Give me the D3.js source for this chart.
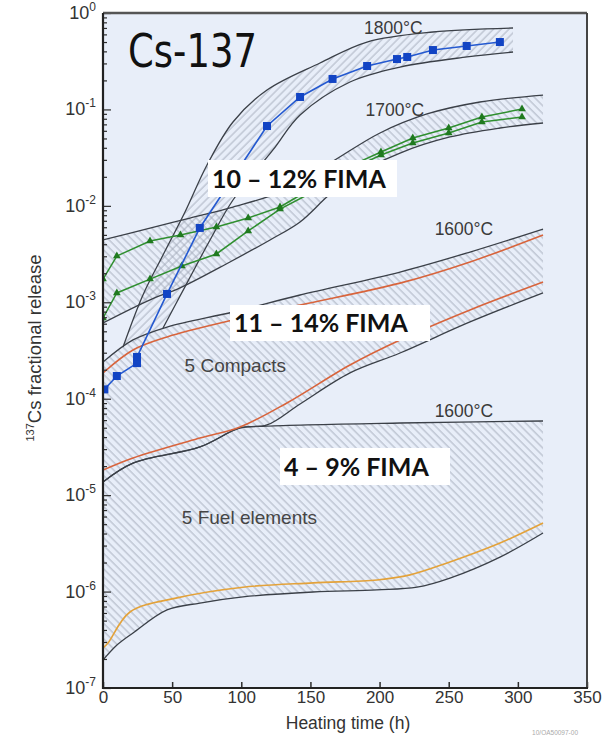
<!DOCTYPE html>
<html><head><meta charset="utf-8">
<script src="https://cdn.jsdelivr.net/npm/d3@7"></script>
<style>body{margin:0;background:#fff;} svg{display:block;font-family:"Liberation Sans",Arial,sans-serif;}</style>
</head><body><svg id="c" width="611" height="738"></svg>
<script>
// ---- data: [heating time (h), fractional release] ----
const xTickValues=[0,50,100,150,200,250,300,350];
const yDecadeExps=[-7,-6,-5,-4,-3,-2,-1,0];

const band1800Upper=[[14.5,3.44e-4],[28.9,1.19e-3],[43.4,3.09e-3],[59.3,8.63e-3],[75.2,0.0265],[94,0.0741],[118.6,0.159],[156.9,0.303],[190.9,0.5],[238.6,0.635],[296.5,0.699]];
const band1800Lower=[[43.4,5.41e-4],[60.7,1.58e-3],[77.4,4.43e-3],[94,0.0115],[122.9,0.038],[142.5,0.0875],[178.6,0.1925],[214.8,0.275],[263.2,0.35],[296.5,0.394]];
const blue1800=[[1,1.25e-4],[10,1.72e-4],[24.6,2.34e-4],[24.6,2.71e-4],[46.3,1.22e-3],[70,5.9e-3],[118.6,0.0673],[142.5,0.1346],[166,0.207],[191,0.282],[212.6,0.333],[220,0.35],[238.6,0.413],[263,0.455],[287,0.5]];

const band1700Upper=[[0,4.43e-3],[34,5.89e-3],[62.9,7.48e-3],[94,9.73e-3],[128,0.0139],[164.1,0.0278],[200.3,0.057],[234.3,0.0897],[272.6,0.1194],[318.2,0.141]];
const band1700Lower=[[0,6.1e-4],[34,1.06e-3],[55.7,1.41e-3],[91.8,2.62e-3],[120.8,4.43e-3],[142.5,6.81e-3],[162,0.0124],[178.6,0.0195],[214.8,0.0353],[250.9,0.0518],[287.1,0.0642],[318.2,0.0723]];
const green1700A=[[0,1.74e-3],[10,3.02e-3],[34,4.32e-3],[56,4.99e-3],[82,6.04e-3],[105,7.48e-3],[128,9.73e-3],[152,0.0155],[175,0.0245],[201,0.0362],[224,0.0506],[250,0.0642],[274,0.0835],[303,0.101]];
const green1700B=[[0,6.87e-4],[10,1.25e-3],[34,1.74e-3],[57,2.38e-3],[82,3.17e-3],[105,5.49e-3],[128,9.27e-3],[152,0.014],[175,0.0225],[201,0.0337],[224,0.0449],[250,0.057],[274,0.0741],[303,0.0835]];

const compactsUpper=[[0,2.4e-4],[21.7,4.07e-4],[46.3,5.54e-4],[94,7.93e-4],[142.5,1.19e-3],[214.8,2.06e-3],[265.4,3.32e-3],[318.2,5.75e-3]];
const compactsRedUpper=[[0,1.85e-4],[21.7,3.2e-4],[46.3,4.37e-4],[94,6.55e-4],[142.5,9.37e-4],[214.8,1.58e-3],[265.4,2.62e-3],[318.2,4.99e-3]];
const compactsRedLower=[[0,1.82e-5],[21.7,2.43e-5],[70.1,3.91e-5],[99.1,5.09e-5],[133,9.04e-5],[178.6,2.24e-4],[214.8,4.07e-4],[265.4,8.32e-4],[318.2,1.62e-3]];
const compactsLower=[[0,1.37e-5],[21.7,2.15e-5],[70.1,3.16e-5],[99.1,4.97e-5],[118.6,5.34e-5],[142.5,8.82e-5],[178.6,1.85e-4],[214.8,2.98e-4],[265.4,6.25e-4],[318.2,1.25e-3]];

const fuelUpper=[[0,1.37e-5],[21.7,2.15e-5],[70.1,3.16e-5],[99.1,4.97e-5],[118.6,5.2e-5],[214.8,5.6e-5],[318.2,5.87e-5]];
const fuelOrange=[[0,2.6e-7],[3.6,2.93e-7],[19.5,6.14e-7],[53.5,8.6e-7],[101.2,1.11e-6],[151.9,1.23e-6],[198.1,1.32e-6],[222,1.49e-6],[248.8,1.98e-6],[287.1,3.19e-6],[318.2,5.14e-6]];
const fuelLower=[[0,1.95e-7],[10.1,2.79e-7],[21.7,3.72e-7],[46.3,6.45e-7],[70.1,7.6e-7],[101.2,8.8e-7],[151.9,9.9e-7],[198.1,1.04e-6],[227.1,1.11e-6],[250.9,1.38e-6],[287.1,2.28e-6],[318.2,4.05e-6]];

const tempLabels=[{t:"1800°C",h:210,v:0.6},{t:"1700°C",h:211,v:0.0855},{t:"1600°C",h:261,v:5.0e-3},{t:"1600°C",h:261,v:6.4e-5}];
const bandLabels=[{t:"5 Compacts",h:59,v:1.9e-4},{t:"5 Fuel elements",h:57,v:5.0e-6}];
const fimaLabels=["10 – 12% FIMA","11 – 14% FIMA","4 – 9% FIMA"];

// ---- chart ----
const svg=d3.select("#c");
const L=103,R=587,T=13,B=688;
const x=d3.scaleLinear().domain([0,350]).range([L,R]);
const y=d3.scaleLog().domain([1e-7,1]).range([B,T]);

const defs=svg.append("defs");
function hatch(id,angle){
  const p=defs.append("pattern").attr("id",id).attr("patternUnits","userSpaceOnUse")
    .attr("width",5.5).attr("height",5.5).attr("patternTransform",`rotate(${angle})`);
  p.append("line").attr("x1",1).attr("y1",0).attr("x2",1).attr("y2",5.5)
    .attr("stroke","#a0a8b6").attr("stroke-width",0.85);
}
hatch("hb",-45); hatch("hf",45);
defs.append("clipPath").attr("id","clip").append("rect").attr("x",L).attr("y",T).attr("width",R-L).attr("height",B-T);

svg.append("rect").attr("x",L).attr("y",T).attr("width",R-L).attr("height",B-T).attr("fill","#e8eef9");

const g=svg.append("g").attr("clip-path","url(#clip)");
const curve=d3.curveCatmullRom.alpha(0.5);
const line=d3.line().x(d=>x(d[0])).y(d=>y(d[1])).curve(curve);
const lineLin=d3.line().x(d=>x(d[0])).y(d=>y(d[1]));
function bandPath(up,lo){
  return line(up)+"L"+line(lo.slice().reverse()).slice(1)+"Z";
}
g.append("path").attr("d",bandPath(fuelUpper,fuelLower)).attr("fill","url(#hb)");
g.append("path").attr("d",bandPath(compactsUpper,compactsLower)).attr("fill","url(#hb)");
g.append("path").attr("d",bandPath(band1700Upper,band1700Lower)).attr("fill","url(#hb)");
g.append("path").attr("d",bandPath(band1800Upper,band1800Lower)).attr("fill","url(#hf)");

const dark="#3b4048";
[band1800Upper,band1800Lower,band1700Upper,band1700Lower,compactsUpper,compactsLower,fuelUpper,fuelLower].forEach(s=>{
  g.append("path").attr("d",line(s)).attr("fill","none").attr("stroke",dark).attr("stroke-width",1.3);
});
[compactsRedUpper,compactsRedLower].forEach(s=>{
  g.append("path").attr("d",line(s)).attr("fill","none").attr("stroke","#d8643c").attr("stroke-width",1.6);
});
g.append("path").attr("d",line(fuelOrange)).attr("fill","none").attr("stroke","#e3a23a").attr("stroke-width",1.6);

// green data
[green1700A,green1700B].forEach(s=>{
  g.append("path").attr("d",lineLin(s)).attr("fill","none").attr("stroke","#2f8f2f").attr("stroke-width",1.5);
  g.selectAll(null).data(s).enter().append("path")
    .attr("d",d3.symbol(d3.symbolTriangle,26)).attr("transform",d=>`translate(${x(d[0])},${y(d[1])})`).attr("fill","#1f7a1f");
});
// blue data
g.append("path").attr("d",lineLin(blue1800)).attr("fill","none").attr("stroke","#2459d0").attr("stroke-width",1.6);
g.selectAll(null).data(blue1800).enter().append("rect")
  .attr("x",d=>x(d[0])-4).attr("y",d=>y(d[1])-4).attr("width",8).attr("height",8).attr("fill","#1244c4");

// text labels
svg.selectAll(null).data(tempLabels).enter().append("text")
  .attr("x",d=>x(d.h)).attr("y",d=>y(d.v)).attr("text-anchor","middle").attr("font-size",17.5).attr("fill","#3a3a3a").text(d=>d.t);
svg.selectAll(null).data(bandLabels).enter().append("text")
  .attr("x",d=>x(d.h)).attr("y",d=>y(d.v)).attr("font-size",19).attr("fill","#454545").text(d=>d.t);

// axes
const yMajor=yDecadeExps.map(e=>Math.pow(10,e));
const yMinor=[];
yDecadeExps.slice(0,-1).forEach(e=>{for(let k=2;k<=9;k++)yMinor.push(k*Math.pow(10,e));});
const yAx=svg.append("g").attr("transform",`translate(${L},0)`)
  .call(d3.axisLeft(y).tickValues(yMajor).tickSizeInner(-8).tickSizeOuter(0).tickFormat(""));
const yAxMin=svg.append("g").attr("transform",`translate(${L},0)`)
  .call(d3.axisLeft(y).tickValues(yMinor).tickSizeInner(-4).tickSizeOuter(0).tickFormat(""));
[yAx,yAxMin].forEach(a=>{a.select(".domain").remove();a.selectAll("line").attr("stroke","#2d2d2d").attr("stroke-width",1.2);});
const xAx=svg.append("g").attr("transform",`translate(0,${B})`)
  .call(d3.axisBottom(x).tickValues(xTickValues).tickSizeInner(-6).tickSizeOuter(0).tickPadding(3).tickFormat(d3.format("d")));
xAx.select(".domain").remove();
xAx.selectAll("line").attr("stroke","#2d2d2d").attr("stroke-width",1.5);
xAx.selectAll("text").attr("font-size",17).attr("fill","#333").attr("font-family","Liberation Sans, Arial, sans-serif");

// y tick labels with superscripts
yDecadeExps.forEach(e=>{
  const t=svg.append("text").attr("x",96).attr("y",y(Math.pow(10,e))+6).attr("text-anchor","end").attr("font-size",18).attr("fill","#333");
  t.append("tspan").text("10");
  t.append("tspan").attr("font-size",12).attr("dy",-8).text(e===0?"0":"-"+(-e));
});

// frame
svg.append("line").attr("x1",L).attr("x2",R).attr("y1",T).attr("y2",T).attr("stroke","#555").attr("stroke-width",2.5);
svg.append("line").attr("x1",R).attr("x2",R).attr("y1",T).attr("y2",B).attr("stroke","#444").attr("stroke-width",2);
svg.append("line").attr("x1",L).attr("x2",L).attr("y1",T).attr("y2",B+1).attr("stroke","#222").attr("stroke-width",2.2);
svg.append("line").attr("x1",L-1).attr("x2",R+1).attr("y1",B).attr("y2",B).attr("stroke","#222").attr("stroke-width",2.2);

// axis titles
svg.append("text").attr("x",348).attr("y",729).attr("text-anchor","middle").attr("font-size",17.5).attr("fill","#333").text("Heating time (h)");
const yt=svg.append("text").attr("transform","translate(41,348) rotate(-90)").attr("text-anchor","middle").attr("font-size",18.5).attr("fill","#333");
yt.append("tspan").attr("font-size",11).attr("dy",-7).text("137");
yt.append("tspan").attr("dy",7).text("Cs fractional release");
svg.append("text").attr("x",578).attr("y",735).attr("text-anchor","end").attr("font-size",6.5).attr("fill","#aaa").text("10/OA50097-00");

// overlay annotations
svg.append("text").attr("x",128).attr("y",67).attr("font-size",47)
  .attr("textLength",129).attr("lengthAdjust","spacingAndGlyphs")
  .attr("font-family","'Liberation Sans Narrow','DejaVu Sans Condensed',sans-serif").attr("fill","#111").text("Cs-137");
const boxes=[{x0:208,y0:160,x1:397,y1:197},{x0:230,y0:305,x1:430,y1:341},{x0:280,y0:448,x1:450,y1:485}];
boxes.forEach((b,i)=>{
  svg.append("rect").attr("x",b.x0).attr("y",b.y0).attr("width",b.x1-b.x0).attr("height",b.y1-b.y0).attr("fill","#fff");
  svg.append("text").attr("x",b.x0+4).attr("y",(b.y0+b.y1)/2+9).attr("font-size",25).attr("font-weight","bold")
    .attr("font-family","Lato,'Open Sans',sans-serif").attr("fill","#111").text(fimaLabels[i]);
});
</script></body></html>
